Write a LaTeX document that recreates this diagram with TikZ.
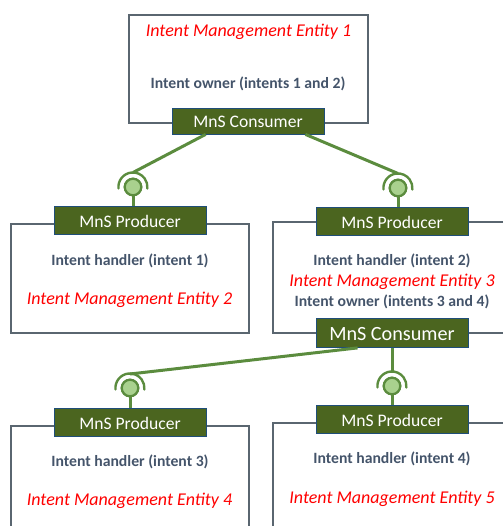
\documentclass[tikz,border=0pt]{standalone}
\usepackage{fontspec}
\setmainfont{Carlito}
\usetikzlibrary{calc}
\definecolor{boxgreen}{HTML}{4B651F}
\definecolor{boxedge}{HTML}{1F4E79}
\definecolor{wire}{HTML}{5B8C3E}
\definecolor{ballfill}{HTML}{A9D18E}
\definecolor{frame}{HTML}{5A6670}
\definecolor{graytext}{HTML}{44546A}
\tikzset{
  x=1pt,y=-1pt,
  mns/.style={draw=boxedge,line width=0.8pt,fill=boxgreen,text=white,minimum width=152pt,minimum height=28pt,inner sep=0pt,text height=13.5pt,text depth=0pt,font=\fontsize{17.6}{19}\selectfont},
  mnsbig/.style={mns,text height=15.5pt,font=\fontsize{20.2}{22}\selectfont},
  framebox/.style={draw=frame,line width=1.2pt},
  ball/.style={circle,draw=wire,line width=2.2pt,fill=ballfill,minimum size=16.5pt,inner sep=0pt},
  wireline/.style={draw=wire,line width=3pt},
  socket/.style={draw=wire,line width=2.4pt,line cap=round},
  role/.style={text=graytext,font=\fontsize{15.7}{17}\selectfont\bfseries,inner sep=0pt},
  entity/.style={text=red,font=\fontsize{18}{20}\selectfont\itshape,inner sep=0pt},
}
\begin{document}
\begin{tikzpicture}
\useasboundingbox (0,0) rectangle (503,526);
% frames
\draw[framebox] (129,15) rectangle (368,123);
\draw[framebox] (11,224) rectangle (249,333);
\draw[framebox] (503,222) -- (273,222) -- (273,333) -- (503,333);
\draw[framebox] (11,526) -- (11,426) -- (249,426) -- (249,526);
\draw[framebox] (273,526) -- (273,423) -- (503,423);
% boxes
\node[mns,minimum height=26pt] (cons1) at (248,121) {MnS Consumer};
\node[mns] (prod1) at (130,220.5) {MnS Producer};
\node[mns] (prod2) at (392,221.5) {MnS Producer};
\node[mnsbig,minimum height=29pt] (cons2) at (392,333) {MnS Consumer};
\node[mns] (prod3) at (130,422.5) {MnS Producer};
\node[mns] (prod4) at (392,419.5) {MnS Producer};
% lollipops
\node[ball] (b1) at (133,187) {};
\node[ball] (b2) at (398,188) {};
\node[ball] (b3) at (130,388) {};
\node[ball] (b4) at (392,386) {};
\foreach \b in {b1,b2,b3,b4}{
  \draw[socket] ($(\b)+(-14.5,1.5)$) arc[start angle=174,end angle=366,radius=14.5];
}
\coordinate (t1) at (133,172.5);
\coordinate (t2) at (398,173.5);
\coordinate (t3) at (130,374);
\coordinate (t4) at (392,372);
\draw[wireline] (cons1.south west)++(34,0) -- (t1);
\draw[wireline] (cons1.south east)++(-19,0) -- (t2);
\draw[wireline] (cons2.south west)++(42,0) -- (t3);
\draw[wireline] (cons2.south) -- (t4);
\draw[wireline] (b1) -- (b1|-prod1.north);
\draw[wireline] (b2) -- (b2|-prod2.north);
\draw[wireline] (b3) -- (prod3.north);
\draw[wireline] (b4) -- (prod4.north);
\foreach \b in {b1,b2,b3,b4}{\node[ball] at (\b) {};}
% texts
\node[entity] (e1) at (248.5,31.5) {Intent Management Entity 1};
\node[role] (r1) at (248,84) {Intent owner (intents 1 and 2)};
\node[role] (r2) at (130,260.5) {Intent handler (intent 1)};
\node[entity] (e2) at (129.5,300) {Intent Management Entity 2};
\node[role] (r3) at (392,261) {Intent handler (intent 2)};
\node[entity] (e3) at (392,282) {Intent Management Entity 3};
\node[role] (r4) at (392,301.5) {Intent owner (intents 3 and 4)};
\node[role] (r5) at (130,462) {Intent handler (intent 3)};
\node[entity] (e4) at (129.5,501) {Intent Management Entity 4};
\node[role] (r6) at (392,459) {Intent handler (intent 4)};
\node[entity] (e5) at (392,499) {Intent Management Entity 5};
\end{tikzpicture}
\end{document}
